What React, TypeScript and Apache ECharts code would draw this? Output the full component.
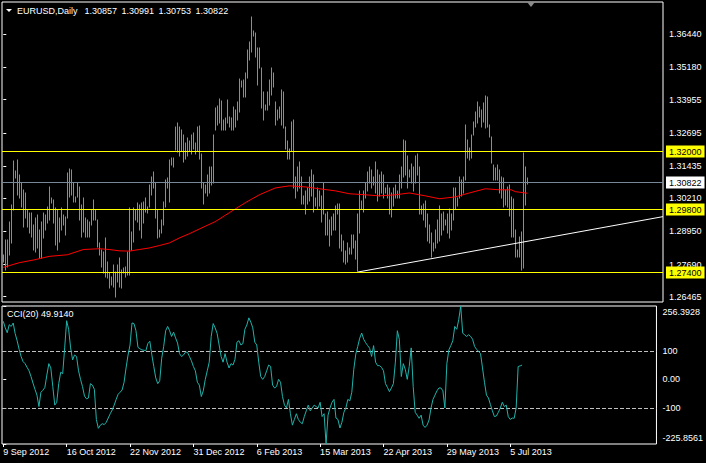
import React, { useEffect, useRef } from "react";
import * as echarts from "echarts";

// ---- price bars (daily high / low), one per bar index ----
const highs = [
  1.2806, 1.2863, 1.2863, 1.2932, 1.2996, 1.3163, 1.3125, 1.3167, 1.311, 1.3079,
  1.3053, 1.3042, 1.2977, 1.2966, 1.2966, 1.292, 1.2947, 1.2958, 1.2901, 1.2932,
  1.2966, 1.2958, 1.2988, 1.3064, 1.3023, 1.3015, 1.2985, 1.2977, 1.2947, 1.2985,
  1.2958, 1.2951, 1.3117, 1.3132, 1.3129, 1.3079, 1.3026, 1.3079, 1.3064, 1.2996,
  1.3023, 1.2947, 1.2939, 1.2932, 1.2977, 1.3015, 1.2977, 1.2939, 1.2852, 1.2825,
  1.2818, 1.2871, 1.278, 1.2738, 1.2723, 1.2769, 1.2742, 1.2769, 1.2795, 1.275,
  1.2757, 1.2761, 1.2818, 1.2985, 1.2894, 1.2985, 1.2977, 1.3004, 1.2996, 1.3004,
  1.3007, 1.3023, 1.2988, 1.3072, 1.3102, 1.3121, 1.3079, 1.2977, 1.2901, 1.2939,
  1.3007, 1.3091, 1.3098, 1.3167, 1.3174, 1.3174, 1.329, 1.3308, 1.329, 1.328,
  1.326, 1.323, 1.325, 1.324, 1.326, 1.327, 1.323, 1.329, 1.3295, 1.319,
  1.308, 1.307, 1.311, 1.314, 1.314, 1.326, 1.3364, 1.3371, 1.3398, 1.339,
  1.3318, 1.3326, 1.3394, 1.333, 1.3326, 1.3368, 1.3356, 1.3386, 1.3474, 1.3466,
  1.347, 1.3496, 1.3584, 1.3614, 1.3709, 1.3656, 1.3648, 1.3591, 1.3591, 1.3515,
  1.3424, 1.3375, 1.3424, 1.347, 1.3515, 1.3496, 1.3386, 1.3356, 1.3368, 1.3432,
  1.3424, 1.329, 1.324, 1.321, 1.331, 1.332, 1.31, 1.314, 1.316, 1.31,
  1.303, 1.305, 1.306, 1.31, 1.313, 1.311, 1.302, 1.306, 1.305, 1.303,
  1.308, 1.296, 1.297, 1.294, 1.295, 1.296, 1.299, 1.3, 1.3, 1.288,
  1.286, 1.282, 1.285, 1.283, 1.288, 1.288, 1.286, 1.296, 1.305, 1.301,
  1.305, 1.308, 1.312, 1.314, 1.313, 1.31, 1.316, 1.313, 1.311, 1.312,
  1.311, 1.306, 1.307, 1.306, 1.304, 1.306, 1.307, 1.305, 1.311, 1.314,
  1.3243, 1.324, 1.318, 1.313, 1.315, 1.314, 1.318, 1.319, 1.314, 1.299,
  1.3, 1.301, 1.296, 1.292, 1.289, 1.285, 1.29, 1.294, 1.299, 1.296,
  1.297, 1.294, 1.296, 1.298, 1.296, 1.306, 1.306, 1.302, 1.3102, 1.309,
  1.31, 1.3299, 1.3242, 1.3212, 1.3261, 1.3311, 1.3348, 1.3386, 1.3368, 1.3356,
  1.3383, 1.3409, 1.3405, 1.3299, 1.3254, 1.3148, 1.3136, 1.3148, 1.313, 1.31,
  1.3098, 1.3053, 1.3064, 1.3072, 1.3026, 1.3019, 1.2901, 1.2826, 1.2875, 1.2894,
  1.3193, 1.314, 1.3099,
];
const lows = [
  1.278, 1.275, 1.2761, 1.2807, 1.2852, 1.2977, 1.3098, 1.3034, 1.3023, 1.2988,
  1.2913, 1.2947, 1.2913, 1.289, 1.2875, 1.2825, 1.2818, 1.2833, 1.2795, 1.2795,
  1.2871, 1.2901, 1.2928, 1.2939, 1.3004, 1.2928, 1.2844, 1.2825, 1.2856, 1.2901,
  1.292, 1.2882, 1.2947, 1.3026, 1.3034, 1.3007, 1.3007, 1.3026, 1.2939, 1.2875,
  1.2894, 1.2875, 1.2875, 1.2875, 1.292, 1.2939, 1.2939, 1.2837, 1.2806, 1.2761,
  1.2738, 1.2723, 1.2719, 1.2681, 1.2693, 1.2685, 1.2647, 1.2704, 1.2685, 1.2681,
  1.2738, 1.2723, 1.2731, 1.2731, 1.2825, 1.2856, 1.2939, 1.2932, 1.2901, 1.2871,
  1.2928, 1.297, 1.2966, 1.2988, 1.3034, 1.306, 1.2947, 1.2871, 1.2875, 1.289,
  1.292, 1.2988, 1.306, 1.3007, 1.3148, 1.314, 1.3205, 1.3197, 1.318, 1.32,
  1.316, 1.317, 1.318, 1.32, 1.319, 1.321, 1.319, 1.32, 1.317, 1.306,
  1.2998, 1.304, 1.303, 1.304, 1.307, 1.308, 1.328, 1.33, 1.3307, 1.328,
  1.328, 1.328, 1.3307, 1.3292, 1.328, 1.328, 1.3292, 1.3318, 1.3349, 1.3443,
  1.3405, 1.3405, 1.3477, 1.3546, 1.3576, 1.3637, 1.3557, 1.3451, 1.3515, 1.3364,
  1.3318, 1.3356, 1.3356, 1.3375, 1.3413, 1.3443, 1.3299, 1.3318, 1.3326, 1.3299,
  1.3288, 1.321, 1.317, 1.317, 1.32, 1.306, 1.302, 1.305, 1.306, 1.3,
  1.3, 1.296, 1.3, 1.301, 1.303, 1.297, 1.299, 1.298, 1.299, 1.293,
  1.296, 1.288, 1.288, 1.284, 1.288, 1.29, 1.29, 1.296, 1.283, 1.282,
  1.278, 1.277, 1.278, 1.281, 1.281, 1.283, 1.279, 1.2745, 1.289, 1.298,
  1.297, 1.302, 1.305, 1.308, 1.306, 1.307, 1.304, 1.301, 1.303, 1.304,
  1.302, 1.304, 1.302, 1.296, 1.295, 1.299, 1.302, 1.302, 1.302, 1.306,
  1.31, 1.311, 1.306, 1.31, 1.308, 1.305, 1.308, 1.311, 1.296, 1.296,
  1.294, 1.291, 1.286, 1.285, 1.2796, 1.282, 1.283, 1.285, 1.286, 1.288,
  1.29, 1.292, 1.289, 1.287, 1.29, 1.294, 1.298, 1.299, 1.302, 1.303,
  1.304, 1.3091, 1.3174, 1.3167, 1.3174, 1.3261, 1.3292, 1.3307, 1.333, 1.3292,
  1.3311, 1.3288, 1.3292, 1.3254, 1.3155, 1.3091, 1.3091, 1.3091, 1.304, 1.302,
  1.2989, 1.2996, 1.2989, 1.2954, 1.2875, 1.2875, 1.2799, 1.2799, 1.2799, 1.275,
  1.2757, 1.2996, 1.3075,
];

// ---- moving average (red), read at [barIndex, value] ----
const maPoints = [
  [0, 1.2758], [8, 1.2776], [15, 1.2786], [23, 1.28], [32, 1.2806], [40, 1.2826],
  [48, 1.2829], [53, 1.2826], [58, 1.2821], [63, 1.282], [68, 1.2826], [73, 1.2832],
  [78, 1.2841], [83, 1.2851], [88, 1.287], [93, 1.2886], [98, 1.2904], [106, 1.2932],
  [113, 1.2966], [121, 1.3004], [128, 1.3034], [136, 1.306], [143, 1.3068], [151, 1.3064],
  [158, 1.3057], [166, 1.3049], [173, 1.3038], [181, 1.3034], [188, 1.303], [196, 1.3034],
  [203, 1.3041], [211, 1.303], [218, 1.3019], [226, 1.3026], [233, 1.3041], [241, 1.3057],
  [248, 1.3053], [254, 1.3053], [256, 1.3046], [262, 1.304],
];

// ---- CCI(20) ----
const cci = [
  203, 180, 163, 191, 185, 197, 160, 135, 105, 80,
  62, 55, 42, 30, 10, -13, -35, -55, -95, -45,
  -38, -28, 15, 55, 40, -25, -90, -80, -15, 25,
  20, 110, 205, 175, 110, 68, 85, 80, 30, 0,
  -25, -58, -68, -65, -15, -20, -35, -140, -171, -160,
  -155, -158, -150, -135, -120, -107, -90, -70, -52, -45,
  -37, -10, 40, 85, 120, 197, 195, 170, 112, 107,
  103, 102, 100, 125, 133, 86, 45, 5, -15, -5,
  74, 115, 170, 185, 170, 150, 165, 145, 127, 90,
  80, 85, 95, 95, 80, 65, 45, 30, -10, -20,
  -60, -40, 0, 30, 60, 150, 195, 180, 160, 120,
  80, 60, 90, 60, 40, 55, 50, 70, 130, 135,
  120, 125, 175, 190, 215, 200, 180, 130, 120, 60,
  10, 0, 10, 30, 50, 45, -20, -30, -25, 0,
  -10, -60, -90, -100, -70, -120, -160, -140, -120, -140,
  -150, -155, -130, -110, -90, -110, -100, -90, -95, -100,
  -80, -130, -120, -225.8561, -125, -100, -80, -70, -135, -140,
  -170, -150, -115, -100, -70, -75, -45, 35, 88, 115,
  144, 162, 140, 128, 118, 109, 80, 118, 60, 48,
  48, 42, 30, -15, -28, -43, -30, -15, 60, 170,
  140, 10, 55, 35, 0, 45, 110, -25, -115, -125,
  -136, -125, -160, -168, -160, -142, -100, -70, -55, -40,
  -30, -30, -40, -100, 55, 103, 118, 135, 185, 175,
  209, 256.3928, 162, 155, 150, 156, 150, 140, 115, 105,
  98, 90, 40, -10, -55, -65, -88, -110, -130, -128,
  -115, -100, -80, -95, -90, -130, -140, -135, -136, -100,
  45, 47, 49.914,
];

// ---- annotations ----
const levelPrices = [1.32, 1.298, 1.274];
const bidPrice = [1.30822];
const trendStart = [177, 1.274];
const trendEnd = [329.85, 1.2951];
const cciLevels = [100, -100];

// ---- axes ----
const priceTicks = [1.3644, 1.3518, 1.33955, 1.32695, 1.31435, 1.3021, 1.2895, 1.2769, 1.26465];
const cciTicks = [256.3928, 100, 0, -100, -225.8561];
const dateTickBars = [0, 32, 64, 96, 128, 160, 192, 224, 256];
const dateTickLabels = [
  "9 Sep 2012", "16 Oct 2012", "22 Nov 2012", "31 Dec 2012", "6 Feb 2013",
  "15 Mar 2013", "22 Apr 2013", "29 May 2013", "5 Jul 2013",
];
const symbolName = "EURUSD,Daily";
const lastOHLC = ["1.30857", "1.30991", "1.30753", "1.30822"];
const cciName = "CCI(20)";
const cciLast = "49.9140";

const FONT = "'Liberation Sans', Arial, sans-serif";
const FS = 9;
const X_MIN = -0.65;
const X_MAX = 329.85;
const YELLOW = "#ffff00";
const BID_GRAY = "#778899";

export default function App() {
  const ref = useRef<HTMLDivElement>(null);
  useEffect(() => {
    if (!ref.current) return;
    const chart = echarts.init(ref.current, undefined, { renderer: "svg" });
    const barData = highs.map((h, i) => [i, lows[i], h]);
    // horizontal level data: [barIndex(start), price, kind] kind 0 = yellow level, 1 = bid line
    const levelData = [
      ...levelPrices.map((p) => [0, p, 0]),
      ...bidPrice.map((p) => [0, p, 1]),
    ];

    const levelRender = (params: any, api: any) => {
      const cs = params.coordSys;
      const price = api.value(1);
      const kind = api.value(2);
      const y = Math.round(api.coord([api.value(0), price])[1]) + 0.5;
      const x1 = cs.x;
      const x2 = cs.x + cs.width;
      return {
        type: "group",
        children: [
          {
            type: "line",
            shape: { x1, y1: y, x2, y2: y },
            style: { stroke: kind === 0 ? YELLOW : BID_GRAY, lineWidth: 1 },
          },
          {
            type: "text",
            x: x2 + 3,
            y: y,
            style: {
              text: Number(price).toFixed(5),
              fill: "#000",
              backgroundColor: kind === 0 ? YELLOW : "#ffffff",
              padding: [2, 3, 1, 3],
              fontSize: FS,
              fontFamily: FONT,
              verticalAlign: "middle",
              align: "left",
            },
          },
        ],
      };
    };

    const cciLevelRender = (params: any, api: any) => {
      const cs = params.coordSys;
      const y = Math.round(api.coord([api.value(0), api.value(1)])[1]) + 0.5;
      return {
        type: "line",
        shape: { x1: cs.x, y1: y, x2: cs.x + cs.width, y2: y },
        style: { stroke: "#c0c0c0", lineWidth: 1, lineDash: [4, 2] },
      };
    };

    chart.setOption({
      animation: false,
      backgroundColor: "#000",
      title: [
        {
          text: symbolName + "\u2002\u00a0" + lastOHLC.join("\u2002"),
          left: 17,
          top: 6,
          padding: 0,
          textStyle: { color: "#fff", fontSize: FS, fontWeight: "normal", fontFamily: FONT },
        },
        {
          text: cciName + "\u00a0" + cciLast,
          left: 7,
          top: 309,
          padding: 0,
          textStyle: { color: "#fff", fontSize: FS, fontWeight: "normal", fontFamily: FONT },
        },
      ],
      graphic: [
        { type: "polygon", shape: { points: [[6, 9], [12, 9], [9, 12]] }, style: { fill: "#fff" } },
        { type: "polygon", shape: { points: [[527, 2], [535, 2], [531, 7]] }, style: { fill: "#8a8a8a" } },
      ],
      grid: [
        { left: 2, top: 2, width: 661, height: 300, show: true, borderColor: "#fff", borderWidth: 1, backgroundColor: "#000" },
        { left: 2, top: 306, width: 661, height: 138, show: true, borderColor: "#fff", borderWidth: 1, backgroundColor: "#000" },
      ],
      xAxis: [
        { type: "value", gridIndex: 0, min: X_MIN, max: X_MAX, show: false },
        {
          type: "value",
          gridIndex: 1,
          min: X_MIN,
          max: X_MAX,
          axisLine: { show: false, onZero: false },
          splitLine: { show: false },
          axisTick: { show: true, customValues: dateTickBars, length: 3, lineStyle: { color: "#fff" } },
          axisLabel: {
            show: true,
            customValues: dateTickBars,
            formatter: (v: number) => dateTickLabels[dateTickBars.indexOf(Math.round(v))] ?? "",
            align: "left",
            margin: 3,
            color: "#fff",
            fontSize: FS,
            fontFamily: FONT,
          },
        },
      ],
      yAxis: [
        {
          type: "value",
          gridIndex: 0,
          position: "right",
          min: 1.26265,
          max: 1.37669,
          axisLine: { show: false },
          splitLine: { show: false },
          axisTick: { show: true, customValues: priceTicks, length: 3, lineStyle: { color: "#fff" } },
          axisLabel: {
            show: true,
            customValues: priceTicks,
            formatter: (v: number) => v.toFixed(5),
            margin: 6,
            color: "#fff",
            fontSize: FS,
            fontFamily: FONT,
          },
        },
        {
          type: "value",
          gridIndex: 1,
          position: "right",
          min: -225.8561,
          max: 256.3928,
          axisLine: { show: false },
          splitLine: { show: false },
          axisTick: { show: true, customValues: cciTicks, length: 3, lineStyle: { color: "#fff" } },
          axisLabel: {
            show: true,
            customValues: cciTicks,
            formatter: (v: number) => {
              if (v === cciTicks[0]) return "{top|" + v.toFixed(4) + "}";
              if (v === cciTicks[4]) return "{bot|" + v.toFixed(4) + "}";
              if (v === 0) return "0.00";
              return String(Math.round(v));
            },
            rich: {
              top: { color: "#fff", fontSize: FS, fontFamily: FONT, padding: [12, 0, 0, 0] },
              bot: { color: "#fff", fontSize: FS, fontFamily: FONT, padding: [0, 0, 12, 0] },
            },
            margin: 6,
            color: "#fff",
            fontSize: FS,
            fontFamily: FONT,
          },
        },
      ],
      series: [
        {
          type: "custom",
          xAxisIndex: 0,
          yAxisIndex: 0,
          data: barData,
          encode: { x: 0, y: [1, 2] },
          renderItem: (_p: any, api: any) => {
            const i = api.value(0);
            const lo = api.coord([i, api.value(1)]);
            const hi = api.coord([i, api.value(2)]);
            const px = Math.round(lo[0]) + 0.5;
            return {
              type: "line",
              shape: { x1: px, y1: Math.round(lo[1]) + 0.5, x2: px, y2: Math.round(hi[1]) - 0.5 },
              style: { stroke: "#32cd32", lineWidth: 1 },
            };
          },
          silent: true,
          z: 2,
        },
        {
          type: "line",
          xAxisIndex: 0,
          yAxisIndex: 0,
          data: maPoints,
          symbol: "none",
          lineStyle: { color: "#ff0000", width: 1 },
          silent: true,
          z: 3,
        },
        {
          type: "custom",
          xAxisIndex: 0,
          yAxisIndex: 0,
          data: levelData,
          encode: { x: 0, y: 1 },
          renderItem: levelRender,
          clip: false,
          silent: true,
          z: 5,
        },
        {
          type: "line",
          xAxisIndex: 0,
          yAxisIndex: 0,
          data: [trendStart, trendEnd],
          symbol: "none",
          lineStyle: { color: "#ffffff", width: 1 },
          silent: true,
          z: 4,
        },
        {
          type: "custom",
          xAxisIndex: 1,
          yAxisIndex: 1,
          data: cciLevels.map((v) => [0, v]),
          encode: { x: 0, y: 1 },
          renderItem: cciLevelRender,
          silent: true,
          z: 2,
        },
        {
          type: "line",
          xAxisIndex: 1,
          yAxisIndex: 1,
          data: cci.map((v, i) => [i, v]),
          symbol: "none",
          lineStyle: { color: "#20b2aa", width: 1 },
          silent: true,
          z: 3,
        },
      ],
    });
    return () => chart.dispose();
  }, []);
  return (
    <div
      ref={ref}
      style={{ position: "absolute", left: 0, top: 0, width: 706, height: 463, background: "#000" }}
    />
  );
}
